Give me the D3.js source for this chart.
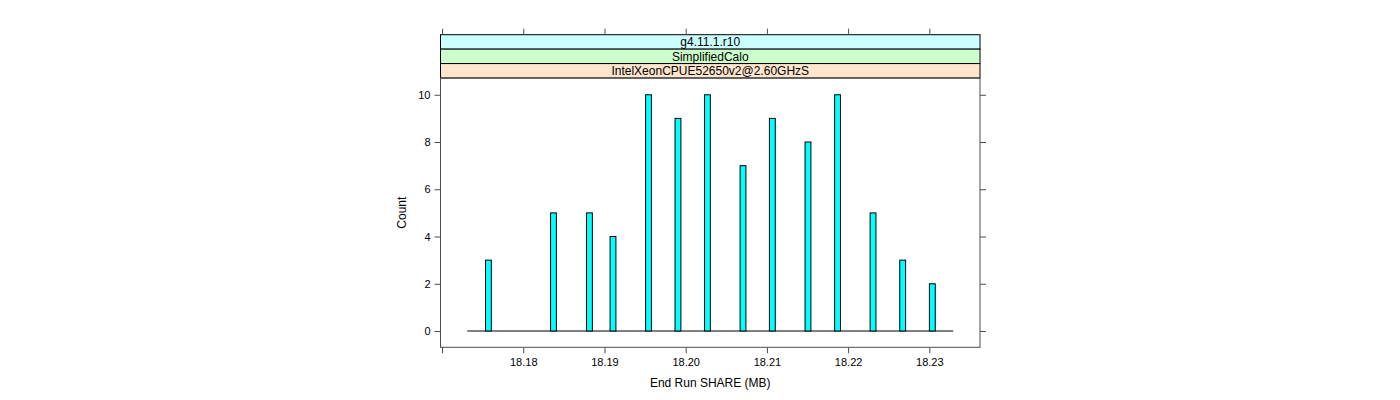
<!DOCTYPE html>
<html>
<head>
<meta charset="utf-8">
<script src="https://cdn.jsdelivr.net/npm/d3@7"></script>
<style>
  html, body { margin: 0; padding: 0; background: #fff; }
  svg { display: block; font-family: "Liberation Sans", Arial, Helvetica, sans-serif; }
</style>
</head>
<body>
<svg id="chart" width="1400" height="400"></svg>
<script>
// ---- data ----
const shareValues = [18.17571, 18.18372, 18.18815, 18.19105, 18.19542, 18.19905, 18.20268,
                     18.20706, 18.21067, 18.21506, 18.21870, 18.22307, 18.22672, 18.23037];
const counts = [3, 5, 5, 4, 10, 9, 10, 7, 9, 8, 10, 5, 3, 2];
const binWidth = 0.00072;
const binRange = [18.17311, 18.23295];
const xTicks = [18.17, 18.18, 18.19, 18.20, 18.21, 18.22, 18.23];
const xTickLabels = ["", "18.18", "18.19", "18.20", "18.21", "18.22", "18.23"];
const yTicks = [0, 2, 4, 6, 8, 10];
const stripLabels = ["g4.11.1.r10", "SimplifiedCalo", "IntelXeonCPUE52650v2@2.60GHzS"];
const stripColors = ["#ccffff", "#ccffcc", "#ffe5cc"];
const xTitle = "End Run SHARE (MB)";
const yTitle = "Count";

// ---- layout ----
const panel = { left: 440.5, right: 980, top: 78, bottom: 347.3 };
const stripTop = 34.7, stripH = (panel.top - stripTop) / 3;

const svg = d3.select("#chart");
const x = d3.scaleLinear().domain([18.16981, 18.23624]).range([panel.left, panel.right]);
const y = d3.scaleLinear().domain([-0.69, 10.71]).range([panel.bottom, panel.top]);

const axisCol = "#4d4d4d";

// strips
stripLabels.forEach((lab, i) => {
  const y0 = stripTop + i * stripH;
  svg.append("rect").attr("x", panel.left).attr("y", y0)
    .attr("width", panel.right - panel.left).attr("height", stripH)
    .attr("fill", stripColors[i]).attr("stroke", "#000").attr("stroke-width", 1);
  svg.append("text").attr("x", (panel.left + panel.right) / 2).attr("y", y0 + stripH / 2)
    .attr("dy", "0.36em").attr("text-anchor", "middle").attr("font-size", 12)
    .attr("fill", "#000").text(lab);
});

// axes
const tickFmt = (d, i) => xTickLabels[xTicks.indexOf(d)];
const gB = svg.append("g").attr("transform", `translate(0,${panel.bottom})`)
  .call(d3.axisBottom(x).tickValues(xTicks).tickFormat(tickFmt).tickSize(6).tickPadding(5));
const gT = svg.append("g").attr("transform", `translate(0,${stripTop})`)
  .call(d3.axisTop(x).tickValues(xTicks).tickFormat("").tickSize(6));
const gL = svg.append("g").attr("transform", `translate(${panel.left},0)`)
  .call(d3.axisLeft(y).tickValues(yTicks).tickSize(6).tickPadding(4));
const gR = svg.append("g").attr("transform", `translate(${panel.right},0)`)
  .call(d3.axisRight(y).tickValues(yTicks).tickFormat("").tickSize(6));
[gB, gT, gL, gR].forEach(g => {
  g.select(".domain").remove();
  g.selectAll(".tick line").attr("stroke", axisCol);
  g.selectAll("text").attr("font-size", 11).attr("fill", "#000")
    .attr("font-family", "'Liberation Sans', Arial, sans-serif");
});

// panel border
svg.append("rect").attr("x", panel.left).attr("y", panel.top)
  .attr("width", panel.right - panel.left).attr("height", panel.bottom - panel.top)
  .attr("fill", "none").attr("stroke", axisCol).attr("stroke-width", 1);

// zero baseline of empty bins
svg.append("line").attr("x1", x(binRange[0])).attr("x2", x(binRange[1]))
  .attr("y1", y(0)).attr("y2", y(0)).attr("stroke", "#000").attr("stroke-width", 1);

// bars
svg.append("g").selectAll("rect").data(shareValues).join("rect")
  .attr("x", d => x(d - binWidth / 2))
  .attr("width", d => x(d + binWidth / 2) - x(d - binWidth / 2))
  .attr("y", (d, i) => y(counts[i]))
  .attr("height", (d, i) => y(0) - y(counts[i]))
  .attr("fill", "#00ffff").attr("stroke", "#000").attr("stroke-width", 1);

// titles
svg.append("text").attr("x", (panel.left + panel.right) / 2).attr("y", 383)
  .attr("dy", "0.36em").attr("text-anchor", "middle").attr("font-size", 12).text(xTitle);
svg.append("text").attr("transform", `translate(402,${(panel.top + panel.bottom) / 2}) rotate(-90)`)
  .attr("dy", "0.36em").attr("text-anchor", "middle").attr("font-size", 12).text(yTitle);
</script>
</body>
</html>
